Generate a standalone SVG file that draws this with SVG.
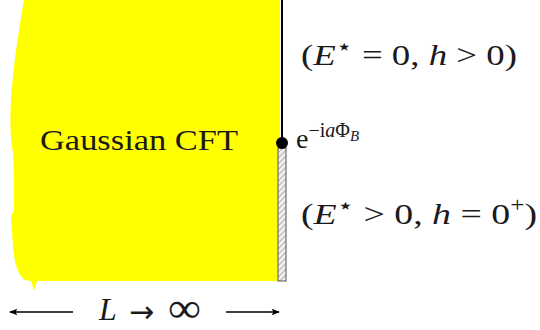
<svg xmlns="http://www.w3.org/2000/svg" width="540" height="330" viewBox="0 0 540 330">
<style>
.t{font-family:"Liberation Serif","DejaVu Serif",serif;fill:#1a1a1a}
.i{font-style:italic}
.conn{stroke:#000;stroke-width:1.3;fill:none}
</style>
<defs>
<pattern id="hatch" width="4" height="4" patternUnits="userSpaceOnUse" patternTransform="rotate(45)">
<rect width="4" height="4" fill="#f0f0f0"/>
<line x1="0" y1="0" x2="0" y2="4" stroke="#9a9a9a" stroke-width="1.5"/>
</pattern>
<marker id="ah" viewBox="0 0 10 10" refX="9" refY="5" markerWidth="10" markerHeight="8" markerUnits="userSpaceOnUse" orient="auto">
<path d="M0,1 L10,5 L0,9 L2,5 Z" fill="#000"/>
</marker>
</defs>
<g id="region">
<path d="M24,0 L280,0 L280,281 L37,281 L34,291 L31,281 L25,280 C18,276 14,262 13,245 C12,232 11,222 11,216 L14,210 C14,190 14,165 13,152 C10,140 10,115 11,100 C13,70 17,40 24,0 Z" fill="#ffff00"/>
<text class="t" x="40" y="150" font-size="30" textLength="198" lengthAdjust="spacingAndGlyphs">Gaussian CFT</text>
</g>
<g id="boundary">
<line x1="282" y1="0" x2="282" y2="142" stroke="#000" stroke-width="2"/>
<rect x="278" y="148" width="8" height="133" fill="url(#hatch)" stroke="#555" stroke-width="1"/>
<circle cx="282" cy="143" r="6" fill="#000"/>
</g>
<g id="labels">
<text class="t" x="301" y="65" font-size="30" textLength="216" lengthAdjust="spacingAndGlyphs">(<tspan class="i">E</tspan><tspan font-size="22" dy="-11" font-family="DejaVu Sans">⋆</tspan><tspan dy="11"> = 0,  </tspan><tspan class="i">h</tspan> &gt; 0)</text>
<text class="t" x="296" y="148" font-size="28">e<tspan font-size="20" dy="-11">−i<tspan class="i">a</tspan>Φ</tspan><tspan font-size="15" dy="4" class="i">B</tspan></text>
<text class="t" x="301" y="224" font-size="30" textLength="236" lengthAdjust="spacingAndGlyphs">(<tspan class="i">E</tspan><tspan font-size="22" dy="-11" font-family="DejaVu Sans">⋆</tspan><tspan dy="11"> &gt; 0,  </tspan><tspan class="i">h</tspan> = 0<tspan font-size="20" dy="-12">+</tspan><tspan dy="12">)</tspan></text>
</g>
<g id="connectors">
<line class="conn" x1="73" y1="312" x2="10" y2="312" marker-end="url(#ah)"/>
<line class="conn" x1="226" y1="312" x2="279" y2="312" marker-end="url(#ah)"/>
</g>
<g id="size">
<text class="t i" x="99" y="320" font-size="32">L</text>
<text x="129" y="322" font-size="30" font-family="DejaVu Sans" fill="#1a1a1a">→</text>
<text class="t" x="168" y="322" font-size="42" textLength="33" lengthAdjust="spacingAndGlyphs">∞</text>
</g>
</svg>
